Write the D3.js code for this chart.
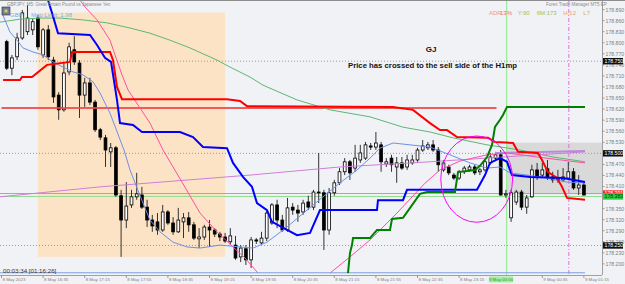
<!DOCTYPE html>
<html>
<head>
<meta charset="utf-8">
<script src="https://cdn.jsdelivr.net/npm/d3@7"></script>
<style>
    body { margin: 0; background: #f1f2f6; }
    text { font-family: "Liberation Sans", Arial, sans-serif; }
</style>
</head>
<body>
<div id="chart-area"></div>
<script>
// ---- data (bar index 0 = 8 May 15:55, M5 bars) ----
const firstBar = 1;
// [open, high, low, close]
const ohlc = [
    [178.803,178.808,178.726,178.731],[178.731,178.767,178.712,178.759],[178.762,178.827,178.753,178.813],
    [178.813,178.889,178.808,178.881],[178.830,178.902,178.821,178.867],[178.835,178.867,178.821,178.857],
    [178.867,178.875,178.781,178.789],[178.767,178.840,178.759,178.835],[178.835,178.848,178.753,178.762],
    [178.753,178.762,178.637,178.653],[178.658,178.666,178.591,178.618],[178.618,178.745,178.613,178.718],
    [178.721,178.800,178.712,178.789],[178.781,178.818,178.740,178.748],[178.745,178.753,178.596,178.658],
    [178.658,178.705,178.626,178.691],[178.691,178.705,178.631,178.639],[178.639,178.645,178.558,178.564],
    [178.564,178.569,178.536,178.544],[178.542,178.550,178.463,178.509],[178.504,178.528,178.463,178.515],
    [178.515,178.520,178.382,178.387],[178.385,178.401,178.219,178.319],[178.319,178.422,178.297,178.357],
    [178.360,178.401,178.352,178.382],[178.382,178.447,178.374,178.390],[178.387,178.409,178.349,178.354],
    [178.354,178.374,178.300,178.319],[178.319,178.333,178.287,178.303],[178.314,178.338,178.279,178.292],
    [178.292,178.360,178.287,178.341],[178.341,178.346,178.306,178.311],[178.311,178.327,178.279,178.287],
    [178.287,178.352,178.284,178.319],[178.314,178.338,178.270,178.325],[178.325,178.341,178.287,178.306],
    [178.306,178.314,178.265,178.270],[178.268,178.297,178.243,178.273],[178.273,178.306,178.265,178.300],
    [178.300,178.319,178.246,178.292],[178.292,178.297,178.273,178.281],[178.281,178.287,178.262,178.273],
    [178.273,178.284,178.257,178.262],[178.260,178.297,178.251,178.276],[178.251,178.276,178.211,178.216],
    [178.219,178.251,178.205,178.243],[178.241,178.251,178.197,178.211],[178.211,178.273,178.189,178.265],
    [178.265,178.270,178.254,178.262],[178.257,178.287,178.251,178.270],[178.270,178.344,178.262,178.338],
    [178.311,178.365,178.306,178.360],[178.360,178.374,178.297,178.319],[178.319,178.333,178.287,178.292],
    [178.292,178.379,178.287,178.352],[178.354,178.365,178.333,178.346],[178.346,178.360,178.314,178.338],
    [178.341,178.374,178.333,178.365],[178.368,178.385,178.346,178.354],[178.354,178.401,178.346,178.395],
    [178.395,178.501,178.365,178.393],[178.393,178.401,178.238,178.292],[178.292,178.406,178.279,178.393],
    [178.393,178.428,178.385,178.420],[178.420,178.460,178.414,178.450],[178.450,178.487,178.441,178.477],
    [178.477,178.482,178.428,178.447],[178.460,178.523,178.450,178.487],[178.482,178.523,178.474,178.501],
    [178.487,178.531,178.482,178.523],[178.520,178.528,178.509,178.517],[178.517,178.558,178.509,178.528],
    [178.523,178.531,178.450,178.477],[178.471,178.487,178.463,178.477],[178.487,178.496,178.450,178.469],
    [178.463,178.490,178.420,178.474],[178.474,178.490,178.455,178.460],[178.463,178.496,178.455,178.482],
    [178.474,178.496,178.469,178.482],[178.482,178.515,178.477,178.509],[178.509,178.536,178.504,178.520],
    [178.515,178.531,178.509,178.523],[178.523,178.536,178.504,178.509],[178.509,178.517,178.450,178.469],
    [178.455,178.482,178.450,178.474],[178.463,178.469,178.441,178.447],[178.441,178.447,178.428,178.433],
    [178.433,178.455,178.428,178.450],[178.450,178.466,178.444,178.460],[178.455,178.469,178.450,178.463],
    [178.463,178.469,178.441,178.447],[178.450,178.460,178.441,178.455],[178.455,178.482,178.450,178.477],
    [178.474,178.501,178.469,178.490],[178.487,178.504,178.482,178.496],[178.496,178.509,178.385,178.387],
    [178.387,178.401,178.379,178.390],[178.325,178.401,178.314,178.393],[178.368,178.401,178.360,178.395],
    [178.395,178.401,178.346,178.354],[178.354,178.387,178.336,178.379],[178.382,178.469,178.379,178.455],
    [178.455,178.474,178.428,178.436],[178.441,178.474,178.433,178.455],[178.458,178.482,178.428,178.436],
    [178.436,178.450,178.420,178.428],[178.428,178.455,178.420,178.433],[178.428,178.460,178.422,178.436],
    [178.433,178.477,178.428,178.450],[178.450,178.460,178.401,178.406],[178.406,178.441,178.387,178.414],
    [178.414,178.420,178.385,178.387]
];

// indicator lines: [bar, price]
const redStop = [[0.3,178.699],[3.56,178.699],[3.94,178.707],[5.87,178.707],[8.75,178.740],[13.17,178.748],
    [13.56,178.775],[20.87,178.775],[21.44,178.753],[22.21,178.680],[23.17,178.647],[43.37,178.647],
    [45.87,178.642],[47.21,178.628],[75.29,178.626],[79.13,178.618],[82.4,178.582],[84.33,178.563],
    [85.67,178.563],[87.6,178.544],[93.56,178.542],[94.9,178.531],[98.37,178.528],[99.33,178.504],
    [103.17,178.501],[103.94,178.482],[105.1,178.449],[106.83,178.433],[107.79,178.409],[108.75,178.379],
    [112.21,178.374]];
const blueStop = [[8.94,178.916],[9.71,178.881],[10.87,178.826],[17.02,178.821],[18.37,178.794],[19.9,178.759],
    [21.06,178.748],[22.21,178.645],[22.79,178.582],[25.29,178.577],[27.02,178.558],[34.33,178.558],
    [36.83,178.544],[38.75,178.517],[43.37,178.514],[44.52,178.474],[46.44,178.436],[48.17,178.409],
    [49.13,178.365],[51.06,178.346],[52.02,178.314],[56.83,178.278],[59.33,178.284],[61.25,178.346],
    [72.21,178.346],[72.4,178.373],[77.21,178.373],[77.98,178.401],[82.4,178.401],[91.44,178.401],
    [92.98,178.441],[93.94,178.474],[95.87,178.487],[97.21,178.477],[98.17,178.441],[101.63,178.436],
    [107.98,178.433],[112.21,178.422]];
const greenStop = [[66.63,178.175],[67.02,178.230],[67.4,178.251],[67.6,178.270],[70.87,178.270],[72.21,178.292],
    [74.71,178.292],[75.1,178.322],[77.21,178.325],[80.48,178.390],[81.83,178.395],[87.21,178.395],
    [87.79,178.449],[91.06,178.455],[92.02,178.466],[93.37,178.490],[94.33,178.523],[94.9,178.572],
    [95.87,178.591],[96.44,178.604],[97.21,178.626],[112.21,178.626]];
const fastMa = [[0.1,178.881],[1.63,178.829],[2.98,178.807],[4.13,178.786],[6.06,178.775],[7.98,178.767],
    [9.9,178.748],[11.83,178.734],[13.75,178.721],[15.67,178.713],[17.6,178.694],[18.94,178.664],
    [20.87,178.609],[23.56,178.509],[24.71,178.455],[26.06,178.406],[27.21,178.365],[28.56,178.319],
    [30.48,178.287],[32.98,178.259],[35.67,178.246],[38.17,178.243],[42.02,178.251],[45.87,178.246],
    [48.37,178.243],[51.06,178.259],[54.9,178.300],[58.75,178.346],[61.83,178.382],[65.1,178.420],
    [68.37,178.455],[70.87,178.487],[72.79,178.514],[75.29,178.528],[78.56,178.523],[82.4,178.517],
    [86.25,178.496],[90.1,178.474],[93.37,178.460],[95.87,178.463],[97.79,178.447],[101.06,178.441],
    [104.9,178.433],[108.75,178.422],[112.21,178.420]];
const slowMa = [[-0.29,178.856],[3.56,178.864],[7.4,178.867],[11.25,178.867],[15.67,178.862],[20.29,178.854],
    [24.71,178.840],[28.56,178.826],[32.4,178.807],[36.25,178.786],[41.44,178.753],[43.94,178.734],
    [47.79,178.707],[50.29,178.685],[56.83,178.645],[63.17,178.618],[70.87,178.599],[77.21,178.571],
    [82.4,178.558],[86.83,178.542],[93.37,178.523],[99.71,178.509],[106.06,178.490],[112.21,178.477]];
const pinkDown = [[15.1,178.916],[16.06,178.897],[18.37,178.862],[20.87,178.807],[21.83,178.767],[23.17,178.713],
    [24.33,178.672],[28.56,178.582],[31.06,178.509],[34.71,178.422],[38.17,178.338],[41.44,178.287],
    [44.52,178.246],[46.83,178.216],[49.33,178.175]];
const pinkUp = [[63.17,178.175],[67.02,178.219],[70.87,178.265],[76.06,178.338],[81.44,178.419],[84.33,178.455],
    [88.17,178.479],[93.37,178.496],[97.21,178.501],[102.98,178.490],[112.21,178.474]];
const violet = [[-0.29,178.382],[18.94,178.409],[47.79,178.441],[65.1,178.463],[82.4,178.477],[96.44,178.490],[112.21,178.504]];
const violet2 = [[94.9,178.501],[112.21,178.506]];
const bottomLine = [[-0.5,178.176],[112.21,178.176]];

// levels
const redLevel = { price: 178.623, from: 0, to: 95.2 };
const bidLevel = 178.391;
const lowLevel = 178.383;
const roundLevels = [178.750, 178.500, 178.250];

// zones
const sessionBox = [6.96, 43.0, 178.882, 178.219];
const greyBox = [97.15, 178.529, 178.389];
const ellipse = { bar: 91.38, price: 178.430, rBars: 6.9, rPrice: 0.117 };
const greenVLine = 97.15;
const pinkVLine = 109.1;

// axis labels
const priceTicks = [178.890,178.860,178.830,178.800,178.770,178.740,178.710,178.680,178.650,178.620,178.590,
    178.560,178.530,178.500,178.470,178.440,178.410,178.380,178.350,178.320,178.290,178.260,178.230,178.200];
const timeTickBars = [0, 8, 16, 24, 32, 40, 48, 56, 64, 72, 80, 88, 104, 112];
const timeTickLabels = ['8 May 2023','8 May 16:35','8 May 17:15','8 May 17:55','8 May 18:35','8 May 19:15',
    '8 May 19:55','8 May 20:35','8 May 21:15','8 May 21:55','8 May 22:35','8 May 23:15','9 May 00:35','9 May 01:15'];

// ---- layout ----
const width = 625;
const height = 284;
const plotRight = 602;
const plotBottom = 275;

const svg = d3.select('#chart-area')
    .append('svg')
        .attr('width', width)
        .attr('height', height);

svg.append('rect')
    .attr('width', width).attr('height', height)
    .attr('fill', '#f1f2f6');

svg.append('defs').append('clipPath')
    .attr('id', 'plot')
    .append('rect')
        .attr('width', plotRight)
        .attr('height', plotBottom);

const x = d3.scaleLinear().domain([0, 112]).range([1.5, 583.9]);
const y = d3.scaleLinear().domain([178.2, 178.89]).range([263.9, 9.6]);

const g = svg.append('g').attr('clip-path', 'url(#plot)');

// session box
g.append('rect')
    .attr('x', x(sessionBox[0]))
    .attr('y', y(sessionBox[2]))
    .attr('width', x(sessionBox[1]) - x(sessionBox[0]))
    .attr('height', y(sessionBox[3]) - y(sessionBox[2]))
    .attr('fill', '#fde3c5');

// grey box
g.append('rect')
    .attr('x', x(greyBox[0]))
    .attr('y', y(greyBox[1]))
    .attr('width', plotRight - x(greyBox[0]))
    .attr('height', y(greyBox[2]) - y(greyBox[1]))
    .attr('fill', '#d9d9da');

// round levels (dotted)
g.selectAll('.round')
    .data(roundLevels)
    .enter()
        .append('line')
            .attr('x1', 0).attr('x2', plotRight)
            .attr('y1', d => y(d)).attr('y2', d => y(d))
            .attr('stroke', '#9a9a9a')
            .attr('stroke-width', 1)
            .attr('stroke-dasharray', '1,2');

// vertical lines
g.append('line')
    .attr('x1', x(greenVLine)).attr('x2', x(greenVLine))
    .attr('y1', 0).attr('y2', plotBottom)
    .attr('stroke', '#8be88b');
g.append('line')
    .attr('x1', x(pinkVLine)).attr('x2', x(pinkVLine))
    .attr('y1', 0).attr('y2', plotBottom)
    .attr('stroke', '#e070e0')
    .attr('stroke-dasharray', '4,2,1,2');

// thin bid / low levels
g.append('line')
    .attr('x1', 0).attr('x2', plotRight)
    .attr('y1', y(bidLevel)).attr('y2', y(bidLevel))
    .attr('stroke', '#f08a8a');
g.append('line')
    .attr('x1', 0).attr('x2', plotRight)
    .attr('y1', y(lowLevel)).attr('y2', y(lowLevel))
    .attr('stroke', '#8fdc8f');

// candles
const candles = g.selectAll('.candle')
    .data(ohlc)
    .enter()
        .append('g')
            .attr('transform', (d, i) => `translate(${x(i + firstBar)}, 0)`);

candles.append('line')
    .attr('y1', d => y(d[1]))
    .attr('y2', d => y(d[2]))
    .attr('stroke', '#333');

candles.append('rect')
    .attr('x', -1.4)
    .attr('width', 2.8)
    .attr('y', d => y(Math.max(d[0], d[3])))
    .attr('height', d => Math.max(0.8, Math.abs(y(d[0]) - y(d[3]))))
    .attr('fill', d => d[3] >= d[0] ? '#fff' : '#000')
    .attr('stroke', '#000')
    .attr('stroke-width', 0.8);

// indicator lines
const line = d3.line().x(d => x(d[0])).y(d => y(d[1]));

g.append('line')
    .attr('x1', x(redLevel.from)).attr('x2', x(redLevel.to))
    .attr('y1', y(redLevel.price)).attr('y2', y(redLevel.price))
    .attr('stroke', '#ee4444')
    .attr('stroke-width', 2)
    .attr('opacity', 0.85);

const series = [
    [slowMa, '#5cb870', 1],
    [violet, '#d07ed8', 1],
    [violet2, '#b98ad8', 2],
    [pinkDown, '#ff4fa3', 1],
    [pinkUp, '#ff4fa3', 1],
    [fastMa, '#6f8fe8', 1],
    [bottomLine, '#7f9fe0', 1.2],
    [redStop, '#ff0000', 2],
    [blueStop, '#0000ff', 2],
    [greenStop, '#008000', 2]
];
series.forEach(s => {
    g.append('path')
        .attr('d', line(s[0]))
        .attr('fill', 'none')
        .attr('stroke', s[1])
        .attr('stroke-width', s[2]);
});

// ellipse
g.append('ellipse')
    .attr('cx', x(ellipse.bar))
    .attr('cy', y(ellipse.price))
    .attr('rx', x(ellipse.bar + ellipse.rBars) - x(ellipse.bar))
    .attr('ry', y(ellipse.price - ellipse.rPrice) - y(ellipse.price))
    .attr('fill', 'none')
    .attr('stroke', '#ff00ff')
    .attr('stroke-width', 1);

// ---- axes ----
svg.append('line')
    .attr('x1', plotRight + 0.5).attr('x2', plotRight + 0.5)
    .attr('y1', 0).attr('y2', plotBottom)
    .attr('stroke', '#a0a0a0');
svg.append('line')
    .attr('x1', 0).attr('x2', plotRight)
    .attr('y1', plotBottom + 0.5).attr('y2', plotBottom + 0.5)
    .attr('stroke', '#a0a0a0');
svg.append('line')
    .attr('x1', 0).attr('x2', width)
    .attr('y1', 0.5).attr('y2', 0.5)
    .attr('stroke', '#8c8c8c');

// labels under a price box are hidden by it, so skip them
const boxPrices = roundLevels.concat([bidLevel, lowLevel]);
const visibleTicks = priceTicks.filter(p => boxPrices.every(b => Math.abs(y(p) - y(b)) > 3));

const pTicks = svg.selectAll('.ptick')
    .data(visibleTicks)
    .enter()
        .append('g')
            .attr('transform', d => `translate(${plotRight}, ${y(d)})`);
pTicks.append('line')
    .attr('x1', 0).attr('x2', 2.5)
    .attr('stroke', '#999');
pTicks.append('text')
    .attr('x', 3.5).attr('y', 1.9)
    .attr('font-size', '5.2px')
    .attr('fill', '#808080')
    .text(d => d.toFixed(3));

function priceBox(p, bg, fg) {
    svg.append('rect')
        .attr('x', plotRight + 1).attr('y', y(p) - 3.2)
        .attr('width', 20).attr('height', 6.4)
        .attr('fill', bg);
    svg.append('text')
        .attr('x', plotRight + 2.5).attr('y', y(p) + 1.9)
        .attr('font-size', '5.2px')
        .attr('fill', fg)
        .text(p.toFixed(3));
}
roundLevels.forEach(p => priceBox(p, '#111', '#fff'));
priceBox(bidLevel, '#ff2a2a', '#fff');
priceBox(lowLevel, '#2ecc40', '#0a3a0a');

const tTicks = svg.selectAll('.ttick')
    .data(timeTickBars)
    .enter()
        .append('g')
            .attr('transform', d => `translate(${x(d)}, ${plotBottom})`);
tTicks.append('line')
    .attr('y1', 0).attr('y2', 3)
    .attr('stroke', '#999');
tTicks.append('text')
    .attr('x', 1).attr('y', 6.3)
    .attr('font-size', '4.4px')
    .attr('fill', '#808080')
    .text((d, i) => timeTickLabels[i]);

svg.append('rect')
    .attr('x', 489).attr('y', plotBottom + 1.5)
    .attr('width', 24).attr('height', 6)
    .attr('fill', '#9ef09e');
svg.append('text')
    .attr('x', 501).attr('y', plotBottom + 6.3)
    .attr('text-anchor', 'middle')
    .attr('font-size', '4.4px')
    .attr('fill', '#4c8c4c')
    .text('9 May 00:00');

// ---- header / annotations ----
svg.append('rect')
    .attr('x', 2).attr('y', 7).attr('width', 8).attr('height', 8)
    .attr('fill', '#6d7f9c').attr('stroke', '#333').attr('stroke-width', 0.6);
svg.append('rect')
    .attr('x', 4.5).attr('y', 9.5).attr('width', 3).attr('height', 3)
    .attr('fill', '#e8c65a');

svg.append('text')
    .attr('x', 7).attr('y', 6)
    .attr('font-size', '4.5px')
    .attr('fill', '#8a8a8a')
    .text('GBPJPY, M5:  Great Britain Pound vs Japanese Yen');

svg.append('text')
    .attr('x', 10).attr('y', 16.5)
    .attr('font-size', '6px')
    .attr('fill', '#79a9e6')
    .text('GBP');
svg.append('text')
    .attr('x', 31).attr('y', 16.5)
    .attr('font-size', '6px')
    .attr('fill', '#79a9e6')
    .text('Map  Limit: 1.98');

svg.append('text')
    .attr('x', 546).attr('y', 6)
    .attr('font-size', '4.5px')
    .attr('fill', '#8a8a8a')
    .text('Forex Trade Manager MT5 EP');

const stats = [
    ['ADR', '#f0a060', 489],
    ['13%', '#f07060', 500],
    ['Y:90', '#a8c040', 517.7],
    ['6M:173', '#a8c040', 536.7],
    ['H:12', '#f0a060', 563.3],
    ['L7', '#d8b040', 583.3]
];
stats.forEach(s => {
    svg.append('text')
        .attr('x', s[2]).attr('y', 14.5)
        .attr('font-family', '"DejaVu Sans Mono", monospace')
        .attr('font-size', '6px')
        .attr('fill', s[1])
        .text(s[0]);
});

svg.append('text')
    .attr('x', 431).attr('y', 52)
    .attr('text-anchor', 'middle')
    .attr('font-size', '8px')
    .attr('font-weight', 'bold')
    .attr('fill', '#111')
    .text('GJ');

svg.append('text')
    .attr('x', 348).attr('y', 68)
    .attr('font-size', '7px')
    .attr('font-weight', 'bold')
    .attr('fill', '#111')
    .attr('textLength', 169)
    .attr('lengthAdjust', 'spacingAndGlyphs')
    .text('Price has crossed to the sell side of the H1mp');

svg.append('text')
    .attr('x', 3).attr('y', 272.5)
    .attr('font-size', '6.2px')
    .attr('fill', '#333')
    .text('00:03:34 [01:16:26]');
</script>
</body>
</html>
